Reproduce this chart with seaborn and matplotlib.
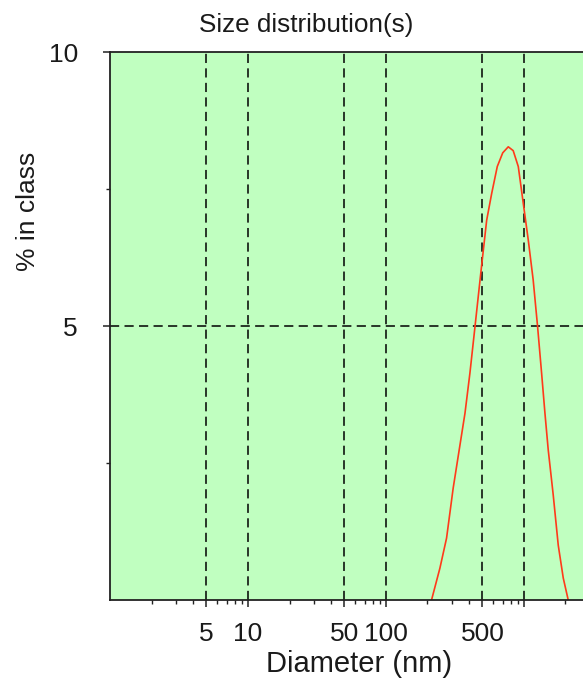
#!/usr/bin/env python3

import matplotlib
matplotlib.use('Agg')
import matplotlib.pyplot as plt
import matplotlib.ticker as mticker
import pandas as pd
import seaborn as sns

# size distribution
diameter_nm = [214, 246, 275, 307, 344, 374, 406, 442, 488, 537, 584, 641,
               702, 770, 836, 910, 989, 1075, 1167, 1256, 1343, 1420, 1500,
               1630, 1773, 1928, 2094]
pct_in_class = [0.0, 0.58, 1.13, 2.04, 2.83, 3.41, 4.14, 4.99, 5.99, 6.93,
                7.42, 7.91, 8.16, 8.27, 8.20, 7.91, 7.24, 6.57, 5.84, 4.99, 4.14,
                3.41, 2.74, 1.92, 1.00, 0.40, 0.0]

x_grid = [5, 10, 50, 100, 500, 1000]
x_labels = ['5', '10', '50', '100', '500', '']
y_major = [5, 10]
y_minor = [2.5, 7.5]

table = pd.DataFrame({'diameter': diameter_nm, 'pct': pct_in_class})

sns.set_style('white')
plt.rcParams['font.family'] = ['Liberation Sans', 'DejaVu Sans']

fig = plt.figure(figsize=(5.83, 6.85), dpi=100)
ax = fig.add_axes([110 / 583, 85 / 685, 473 / 583, 548 / 685])
ax.set_facecolor('#c0ffc0')

sns.lineplot(x='diameter', y='pct', data=table, color='#ff3a1a', linewidth=1.2, ax=ax)

ax.set_xscale('log')
ax.set_xlim(1, 2680)
ax.set_ylim(0, 10)

ax.set_xticks(x_grid)
ax.set_xticklabels(x_labels)
ax.xaxis.set_minor_locator(mticker.LogLocator(base=10, subs=[2, 3, 4, 6, 7, 8, 9]))
ax.xaxis.set_minor_formatter(mticker.NullFormatter())
ax.set_yticks(y_major)
ax.set_yticks(y_minor, minor=True)

ax.tick_params(axis='both', which='major', direction='out', length=5, width=1.1,
               color='#222222', labelsize=19, labelcolor='#1a1a1a', bottom=True, left=True)
ax.tick_params(axis='both', which='minor', direction='out', length=3, width=1.0,
               color='#222222', bottom=True, left=True)
ax.tick_params(axis='x', which='major', pad=11)
ax.tick_params(axis='y', which='major', pad=18)

for v in x_grid:
    ax.axvline(v, color='black', linewidth=1.1, linestyle=(0, (6, 3.5)), zorder=1)
ax.axhline(5, color='black', linewidth=1.1, linestyle=(0, (6, 3.5)), zorder=1)

for side in ['left', 'bottom', 'top']:
    ax.spines[side].set_color('#222222')
    ax.spines[side].set_linewidth(1.3)
ax.spines['right'].set_visible(False)

ax.set_title('Size distribution(s)', fontsize=18.8, pad=14.5, color='#1a1a1a')
ax.title.set_x(0.414)
ax.set_xlabel('Diameter (nm)', fontsize=21, color='#1a1a1a')
ax.xaxis.set_label_coords(0.527, -0.092)
ax.set_ylabel('% in class', fontsize=19, color='#1a1a1a')
ax.yaxis.set_label_coords(-0.148, 0.71)

plt.savefig('out.png', dpi=100)
